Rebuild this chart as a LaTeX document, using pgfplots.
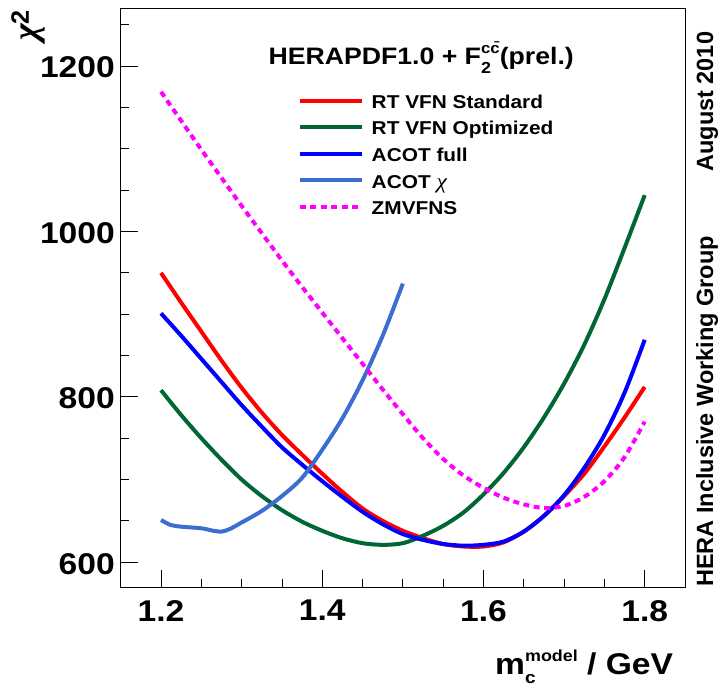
\documentclass[border=0pt]{standalone}
\usepackage{pgfplots}
\pgfplotsset{compat=1.18}
\usepackage{fontspec}
\setmainfont{Liberation Sans}
\newfontfamily\lserif{Liberation Serif}
\definecolor{rtred}{RGB}{255,0,0}
\definecolor{rtgreen}{RGB}{0,102,51}
\definecolor{acotblue}{RGB}{0,0,255}
\definecolor{acotchi}{RGB}{60,110,210}
\definecolor{zmmag}{RGB}{255,0,255}
\newcommand\W[1]{\scalebox{1.12}[1]{#1}}
\newcommand\fs[1]{\fontsize{#1}{#1}\selectfont}
\begin{document}
\begin{tikzpicture}
\begin{axis}[name=ax,
  scale only axis, width=564.3pt, height=578.7pt,
  xmin=1.15, xmax=1.85, ymin=570, ymax=1270,
  axis line style={line width=0.8pt},
  every tick/.style={line width=0.8pt, black},
  major tick length=17.5pt, minor tick length=8.5pt,
  tick align=inside,
  xtick pos=bottom, ytick pos=left,
  xtick={1.2,1.4,1.6,1.8},
  xticklabels={\W{1.2},\W{1.4},\W{1.6},\W{1.8}},
  minor xtick={1.25,1.3,1.35,1.45,1.5,1.55,1.65,1.7,1.75},
  ytick={600,800,1000,1200},
  yticklabels={\W{600},\W{800},\W{1000},\W{1200}},
  minor ytick={650,700,750,850,900,950,1050,1100,1150,1250},
  xticklabel style={font=\bfseries\fs{30}, inner sep=0pt, yshift=-13pt},
  yticklabel style={font=\bfseries\fs{30}, inner sep=0pt, xshift=-5.7pt, yshift=-1.5pt},
  legend style={at={(rel axis cs:0.3137,0.8535)}, anchor=north west, draw=none, fill=none,
    inner sep=0pt, outer sep=0pt, row sep=11.4pt, column sep=7.7pt,
    font=\bfseries\fs{18.6},
    nodes={inner sep=0pt, text height=15.2pt, text depth=0pt}},
  legend cell align=left,
  legend image code/.code={\draw[#1] (0pt,0pt) -- (62.3pt,0pt);},
]
\addplot[rtred, line width=4pt, smooth] coordinates {
(1.2,950) (1.225,914) (1.25,879) (1.275,844) (1.3,811) (1.325,781) (1.35,754)
(1.375,730) (1.4,707) (1.425,685) (1.45,665) (1.475,650) (1.5,638) (1.525,629)
(1.55,622) (1.575,619) (1.6,619) (1.625,624) (1.65,637) (1.675,656) (1.7,680)
(1.725,707) (1.75,740) (1.775,775) (1.8,812)};
\addlegendentry{\W{RT VFN Standard}}
\addplot[rtgreen, line width=4pt, smooth] coordinates {
(1.2,808) (1.225,778) (1.25,750) (1.275,724) (1.3,700) (1.325,680) (1.35,663)
(1.375,649) (1.4,638) (1.425,629) (1.45,623) (1.475,621) (1.5,623) (1.525,632)
(1.55,644) (1.575,660) (1.6,682) (1.625,708) (1.65,739) (1.675,775) (1.7,816)
(1.725,863) (1.75,918) (1.775,980) (1.8,1044)};
\addlegendentry{\W{RT VFN Optimized}}
\addplot[acotblue, line width=4pt, smooth] coordinates {
(1.2,901) (1.225,874) (1.25,846) (1.275,818) (1.3,790) (1.325,764) (1.35,739)
(1.375,718) (1.4,698) (1.425,679) (1.45,661) (1.475,646) (1.5,634) (1.525,627)
(1.55,622) (1.575,620) (1.6,621) (1.625,625) (1.65,637) (1.675,656) (1.7,681)
(1.725,714) (1.75,754) (1.775,805) (1.8,869)};
\addlegendentry{\W{ACOT full}}
\addplot[acotchi, line width=4pt, smooth] coordinates {
(1.2,651) (1.212,645) (1.225,643) (1.25,641) (1.265,638) (1.275,637) (1.285,640)
(1.3,648) (1.325,662) (1.35,680) (1.375,702) (1.4,736) (1.425,774) (1.45,820)
(1.475,874) (1.5,937)};
\addlegendentry{\W{ACOT {\lserif\mdseries\itshape\fs{21}χ}}}
\addplot[zmmag, line width=4pt, dash pattern=on 6pt off 4.5pt, smooth] coordinates {
(1.2,1169) (1.225,1134) (1.25,1099) (1.275,1065) (1.3,1031) (1.325,998) (1.35,965)
(1.375,933) (1.4,902) (1.425,871) (1.45,840) (1.475,809) (1.5,779) (1.525,750)
(1.55,725) (1.575,705) (1.6,690) (1.625,678) (1.65,670) (1.675,665.5) (1.7,668)
(1.725,679) (1.75,698) (1.775,727) (1.8,770)};
\addlegendentry{\W{ZMVFNS}}
\end{axis}
\node[anchor=base west, font=\bfseries\fs{23.8}, inner sep=0pt] at ([xshift=147.6pt,yshift=522pt]ax.south west)
  {\W{HERAPDF1.0 + F\makebox[0pt][l]{\raisebox{-9pt}{\fs{16}2}}\raisebox{11pt}{\fs{15}c\={c}}(prel.)}};
\node[anchor=base east, font=\bfseries\fs{30}, inner sep=0pt] at ([xshift=552.6pt,yshift=-87.3pt]ax.south west)
  {\W{m\makebox[0pt][l]{\raisebox{-9pt}{\fs{17}c}}\raisebox{13pt}{\fs{16}model} / GeV}};
\node[rotate=90, anchor=base east, font=\bfseries\fs{23.5}, inner sep=0pt] at ([xshift=592.3pt,yshift=555.3pt]ax.south west) {August 2010};
\node[rotate=90, anchor=base west, font=\bfseries\fs{23.5}, inner sep=0pt] at ([xshift=592.3pt]ax.south west) {HERA Inclusive Working Group};
\node[rotate=90, anchor=base east, font=\bfseries\fs{36}, inner sep=0pt] at ([xshift=-82.7pt,yshift=577.5pt]ax.south west) {{\lserif\itshape χ}\textsuperscript{2}};
\pgfresetboundingbox
\path ([xshift=-120.7pt,yshift=-105pt]ax.south west) rectangle ([xshift=36pt,yshift=8.3pt]ax.north east);
\end{tikzpicture}
\end{document}
